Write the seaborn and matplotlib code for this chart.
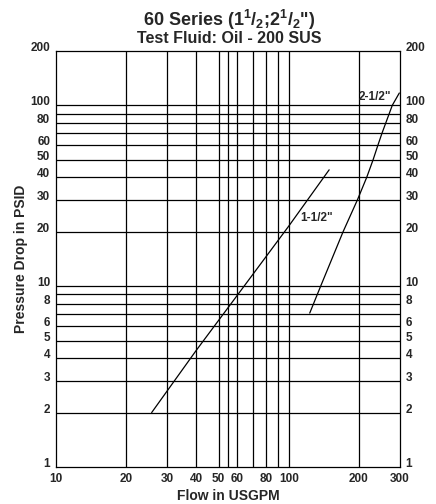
import numpy as np
import pandas as pd
import matplotlib
matplotlib.use("Agg")
import matplotlib.pyplot as plt
import seaborn as sns
from matplotlib.ticker import FixedLocator, FixedFormatter, NullLocator

# Data
flow_15 = [25.8, 40, 64.3, 100, 149]
dp_15 = [2.0, 4.4, 10.0, 21.5, 44.0]
flow_25 = [123, 137, 171, 197, 216, 230, 241, 251, 278, 298]
dp_25 = [7.1, 10.0, 20.0, 30.0, 40.0, 50.0, 60.0, 70.0, 100.0, 117.0]

x_ticks = [10, 20, 30, 40, 50, 60, 80, 100, 200, 300]
y_ticks = [1, 2, 3, 4, 5, 6, 8, 10, 20, 30, 40, 50, 60, 80, 100, 200]
x_grid = [20, 30, 40, 50, 55, 60, 70, 80, 90, 100, 200]
y_grid = [2, 3, 4, 5, 6, 7, 8, 9, 10, 20, 30, 40, 50, 60, 70, 80, 90, 100]

df = pd.DataFrame({
    "flow": flow_15 + flow_25,
    "dp": dp_15 + dp_25,
    "size": ["1-1/2\""] * len(flow_15) + ["2-1/2\""] * len(flow_25),
})

sns.set_style("white")
plt.rcParams["font.family"] = ["Liberation Sans", "DejaVu Sans"]
plt.rcParams["font.weight"] = "bold"
plt.rcParams["mathtext.fontset"] = "custom"
plt.rcParams["mathtext.rm"] = "Liberation Sans:bold"
plt.rcParams["mathtext.bf"] = "Liberation Sans:bold"
plt.rcParams["mathtext.it"] = "Liberation Sans:bold"

fig = plt.figure(figsize=(4.36, 5.04), dpi=100)
ax = fig.add_axes([0.1278, 0.0734, 0.7896, 0.8256])

ax.set_xscale("log")
ax.set_yscale("log")
ax.set_xlim(10, 300)
ax.set_ylim(1, 200)

for xv in x_grid:
    ax.axvline(xv, color="black", lw=0.9, zorder=1)
for yv in y_grid:
    ax.axhline(yv, color="black", lw=0.9, zorder=1)

sns.lineplot(data=df, x="flow", y="dp", units="size", estimator=None,
             color="black", lw=0.9, sort=False, legend=False, ax=ax, zorder=3)

ax.text(155, 23.9, "1-1/2\"", ha="right", va="center", fontsize=8.5, fontweight="bold")
ax.text(276, 111, "2-1/2\"", ha="right", va="center", fontsize=8.5, fontweight="bold")

ax.xaxis.set_major_locator(FixedLocator(x_ticks))
ax.xaxis.set_major_formatter(FixedFormatter([str(v) for v in x_ticks]))
ax.xaxis.set_minor_locator(NullLocator())
ax.yaxis.set_major_locator(FixedLocator(y_ticks))
ax.yaxis.set_major_formatter(FixedFormatter([str(v) for v in y_ticks]))
ax.yaxis.set_minor_locator(NullLocator())
ax.tick_params(axis="both", length=0, labelsize=8.5, pad=4)
ax.tick_params(axis="y", labelleft=True, labelright=True)
for lab in ax.get_xticklabels():
    lab.set_fontweight("bold")
for tk in ax.yaxis.get_major_ticks():
    for lab in (tk.label1, tk.label2):
        lab.set_fontweight("bold")
        lab.set_verticalalignment("baseline")

for sp in ax.spines.values():
    sp.set_color("black")
    sp.set_linewidth(0.9)

ax.set_xlabel("Flow in USGPM", fontsize=10, fontweight="bold", labelpad=3)
ax.set_ylabel("Pressure Drop in PSID", fontsize=10, fontweight="bold", labelpad=1.5)

fig.text(0.525, 0.960, "60 Series (1$^{1}$/$_{2}$;2$^{1}$/$_{2}$\")", ha="center", va="center",
         fontsize=13, fontweight="bold")
fig.text(0.525, 0.923, "Test Fluid: Oil - 200 SUS", ha="center", va="center",
         fontsize=11.5, fontweight="bold")

fig.savefig("out.png", dpi=100)
